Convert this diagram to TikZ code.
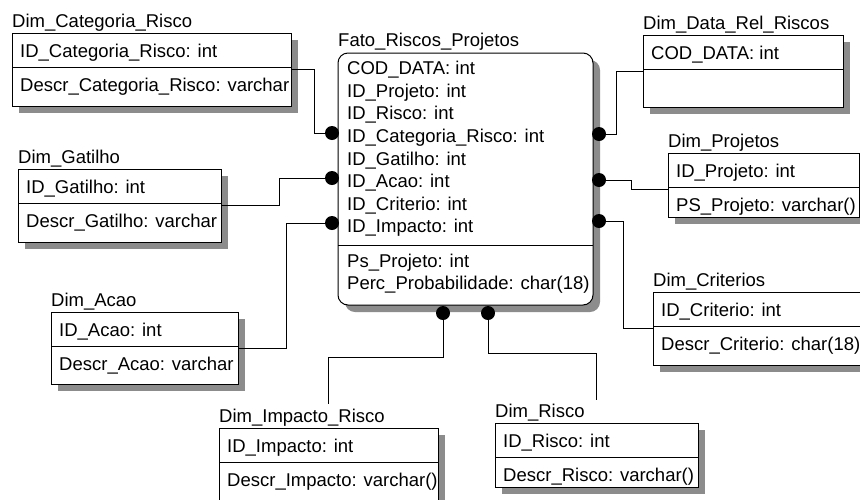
\documentclass[tikz,border=0pt]{standalone}
\usepackage{fontspec}
\setmainfont{Liberation Sans}
\usetikzlibrary{calc,fit}

% Dimension table: name, left, top, right, bottom, title, first row, second row
\newcommand{\dimtable}[8]{%
  \fill[boxshadow] ({#2+7},{#3+7}) rectangle ({#4+7},{#5+7});
  \node[frame, fit={(#2,#3) (#4,#5)}] (#1) {};
  \draw[frame] ({#2},{#3+34}) -- ({#4},{#3+34});
  \node[txt] (#1-t) at (#2,{#3-6}) {#6};
  \node[txt] (#1-a) at ({#2+8},{#3+24}) {#7};
  \node[txt] (#1-b) at ({#2+8},{#3+58}) {#8};
}

\begin{document}
\begin{tikzpicture}[x=1pt,y=-1pt,
  every node/.style={font=\fontsize{18.5}{22.6}\selectfont, inner sep=0pt, text=black},
  frame/.style={draw=black, line width=1pt, fill=white},
  boxshadow/.style={fill=black!45},
  link/.style={draw=black, line width=0.9pt},
  knob/.style={circle, fill=black, minimum size=14pt, inner sep=0pt},
  txt/.style={anchor=base west}
]
\useasboundingbox (0,0) rectangle (860,499);
\clip (0,0) rectangle (860,499);
\fill[white] (0,0) rectangle (860,499);

% fact table
\fill[boxshadow, rounded corners=10] (345,60) rectangle (600,312);
\node[frame, rounded corners=10, fit={(338,53) (593,305)}] (fato) {};
\draw[frame] (338,245) -- (593,245);
\node[txt] (fato-t) at (338,46) {Fato\_Riscos\_Projetos};
\foreach \yy/\ff [count=\i] in {74/COD\_DATA: int, 97/ID\_Projeto: int,
    119/ID\_Risco: int, 142/ID\_Categoria\_Risco: int, 165/ID\_Gatilho: int,
    187/ID\_Acao: int, 210/ID\_Criterio: int, 232/ID\_Impacto: int,
    267/Ps\_Projeto: int, 289/Perc\_Probabilidade: char(18)}
  \node[txt] (fato-f\i) at (347,\yy) {\ff};

% dimension tables
\dimtable{cat}{12}{33}{291}{106}{Dim\_Categoria\_Risco}{ID\_Categoria\_Risco: int}{Descr\_Categoria\_Risco: varchar}
\dimtable{gat}{18}{169}{221}{242}{Dim\_Gatilho}{ID\_Gatilho: int}{Descr\_Gatilho: varchar}
\dimtable{aca}{51}{312}{238}{384}{Dim\_Acao}{ID\_Acao: int}{Descr\_Acao: varchar}
\dimtable{imp}{219}{428}{438}{502}{Dim\_Impacto\_Risco}{ID\_Impacto: int}{Descr\_Impacto: varchar()}
\dimtable{ris}{495}{423}{698}{487}{Dim\_Risco}{ID\_Risco: int}{Descr\_Risco: varchar()}
\dimtable{cri}{653}{292}{870}{365}{Dim\_Criterios}{ID\_Criterio: int}{Descr\_Criterio: char(18)}
\dimtable{prj}{668}{153}{859}{217}{Dim\_Projetos}{ID\_Projeto: int}{PS\_Projeto: varchar()}
\dimtable{dat}{643}{35}{843}{107}{Dim\_Data\_Rel\_Riscos}{COD\_DATA: int}{}

% relationship ends on the fact table
\node[knob] (dL1) at (332,133) {};
\node[knob] (dL2) at (332,178) {};
\node[knob] (dL3) at (332,223) {};
\node[knob] (dR1) at (599,134) {};
\node[knob] (dR2) at (599,180) {};
\node[knob] (dR3) at (599,221) {};
\node[knob] (dB1) at (443,313) {};
\node[knob] (dB2) at (488,313) {};

% connectors
\draw[link] (cat.east) -- ++(23,0) |- (dL1);
\draw[link] (gat.east) -- ++(58,0) |- (dL2);
\draw[link] (aca.east) -- ++(48,0) |- (dL3);
\draw[link] (dat.west) -- ++(-26,0) |- (dR1);
\draw[link] ($(prj.west)+(0,4)$) -- ++(-36,0) |- (dR2);
\draw[link] (cri.west) -- ++(-29,0) |- (dR3);
\draw[link] (dB1) -- ++(0,44) -| ($(imp.north)+(0,-24)$);
\draw[link] (dB2) -- ++(0,40) -| ($(ris.north)+(0,-23)$);
\end{tikzpicture}
\end{document}
